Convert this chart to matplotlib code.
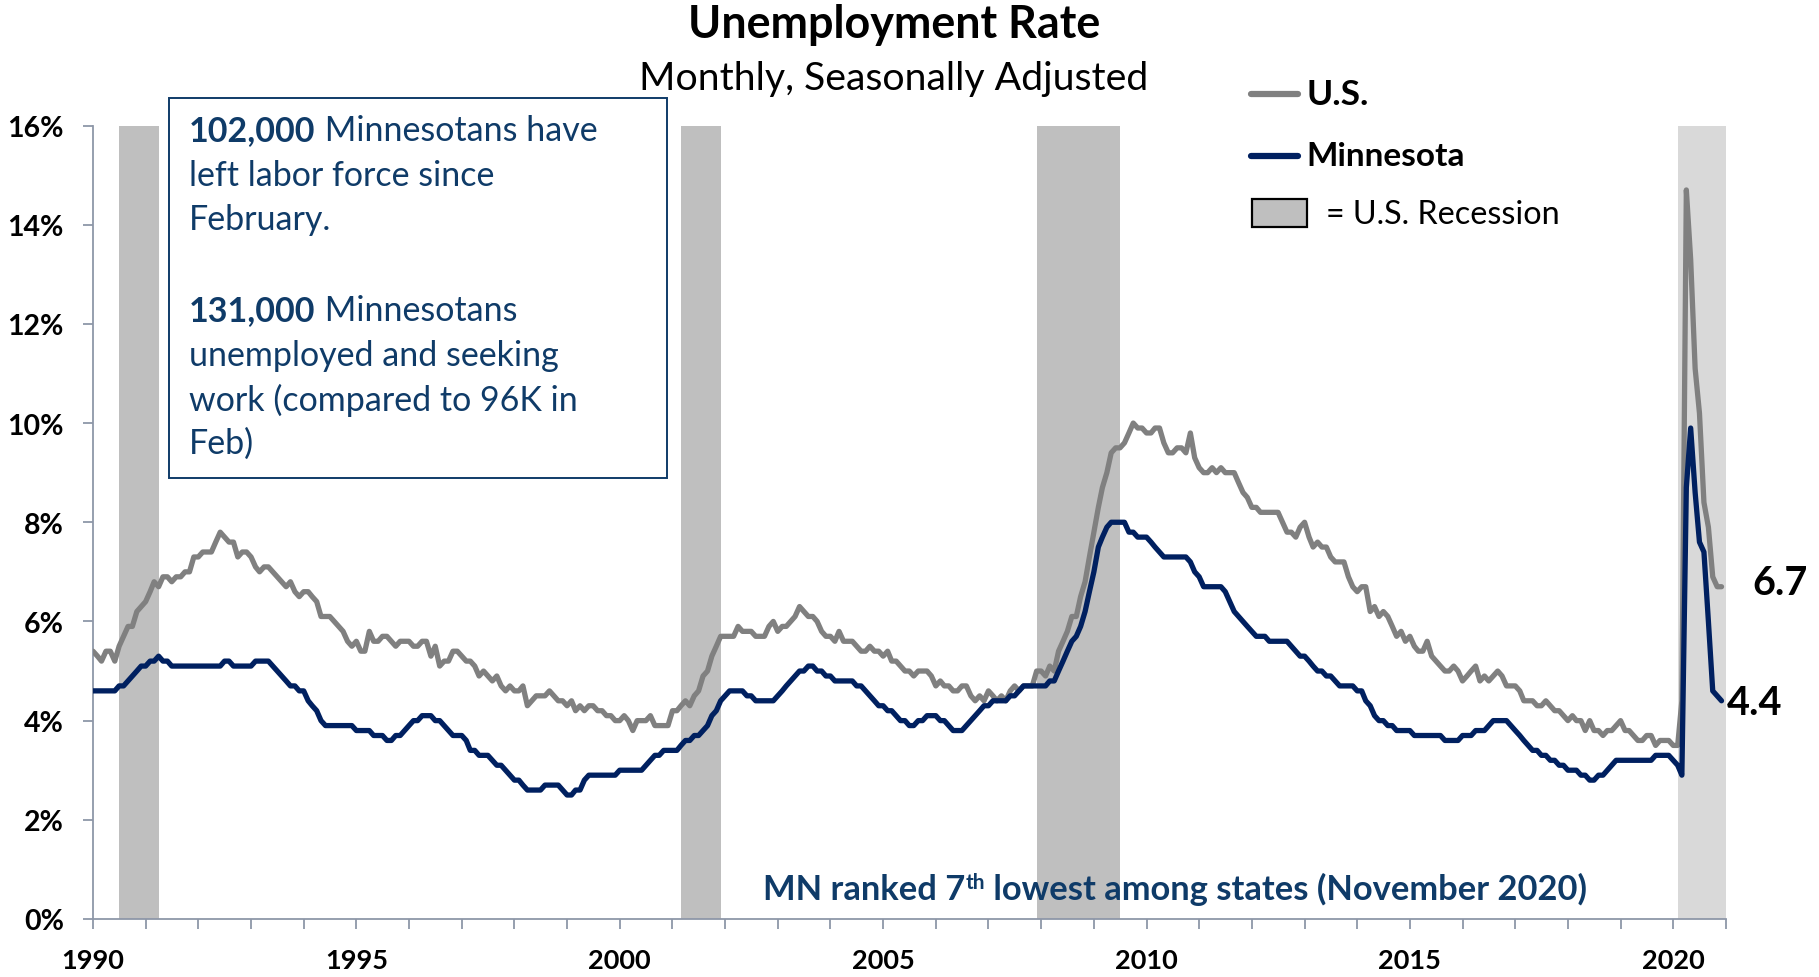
import matplotlib
matplotlib.use("Agg")
import matplotlib.pyplot as plt
import matplotlib.dates as mdates
from matplotlib.ticker import FuncFormatter
from matplotlib.patches import Rectangle
from matplotlib.lines import Line2D
import pandas as pd

plt.rcParams['font.family'] = ['Lato', 'DejaVu Sans']

# ---------------- data ----------------
months = pd.date_range("1990-01-01", "2020-12-01", freq="MS")

us_rate = [
    5.4, 5.3, 5.2, 5.4, 5.4, 5.2, 5.5, 5.7, 5.9, 5.9, 6.2, 6.3,   # 1990
    6.4, 6.6, 6.8, 6.7, 6.9, 6.9, 6.8, 6.9, 6.9, 7.0, 7.0, 7.3,   # 1991
    7.3, 7.4, 7.4, 7.4, 7.6, 7.8, 7.7, 7.6, 7.6, 7.3, 7.4, 7.4,   # 1992
    7.3, 7.1, 7.0, 7.1, 7.1, 7.0, 6.9, 6.8, 6.7, 6.8, 6.6, 6.5,   # 1993
    6.6, 6.6, 6.5, 6.4, 6.1, 6.1, 6.1, 6.0, 5.9, 5.8, 5.6, 5.5,   # 1994
    5.6, 5.4, 5.4, 5.8, 5.6, 5.6, 5.7, 5.7, 5.6, 5.5, 5.6, 5.6,   # 1995
    5.6, 5.5, 5.5, 5.6, 5.6, 5.3, 5.5, 5.1, 5.2, 5.2, 5.4, 5.4,   # 1996
    5.3, 5.2, 5.2, 5.1, 4.9, 5.0, 4.9, 4.8, 4.9, 4.7, 4.6, 4.7,   # 1997
    4.6, 4.6, 4.7, 4.3, 4.4, 4.5, 4.5, 4.5, 4.6, 4.5, 4.4, 4.4,   # 1998
    4.3, 4.4, 4.2, 4.3, 4.2, 4.3, 4.3, 4.2, 4.2, 4.1, 4.1, 4.0,   # 1999
    4.0, 4.1, 4.0, 3.8, 4.0, 4.0, 4.0, 4.1, 3.9, 3.9, 3.9, 3.9,   # 2000
    4.2, 4.2, 4.3, 4.4, 4.3, 4.5, 4.6, 4.9, 5.0, 5.3, 5.5, 5.7,   # 2001
    5.7, 5.7, 5.7, 5.9, 5.8, 5.8, 5.8, 5.7, 5.7, 5.7, 5.9, 6.0,   # 2002
    5.8, 5.9, 5.9, 6.0, 6.1, 6.3, 6.2, 6.1, 6.1, 6.0, 5.8, 5.7,   # 2003
    5.7, 5.6, 5.8, 5.6, 5.6, 5.6, 5.5, 5.4, 5.4, 5.5, 5.4, 5.4,   # 2004
    5.3, 5.4, 5.2, 5.2, 5.1, 5.0, 5.0, 4.9, 5.0, 5.0, 5.0, 4.9,   # 2005
    4.7, 4.8, 4.7, 4.7, 4.6, 4.6, 4.7, 4.7, 4.5, 4.4, 4.5, 4.4,   # 2006
    4.6, 4.5, 4.4, 4.5, 4.4, 4.6, 4.7, 4.6, 4.7, 4.7, 4.7, 5.0,   # 2007
    5.0, 4.9, 5.1, 5.0, 5.4, 5.6, 5.8, 6.1, 6.1, 6.5, 6.8, 7.3,   # 2008
    7.8, 8.3, 8.7, 9.0, 9.4, 9.5, 9.5, 9.6, 9.8, 10.0, 9.9, 9.9,  # 2009
    9.8, 9.8, 9.9, 9.9, 9.6, 9.4, 9.4, 9.5, 9.5, 9.4, 9.8, 9.3,   # 2010
    9.1, 9.0, 9.0, 9.1, 9.0, 9.1, 9.0, 9.0, 9.0, 8.8, 8.6, 8.5,   # 2011
    8.3, 8.3, 8.2, 8.2, 8.2, 8.2, 8.2, 8.0, 7.8, 7.8, 7.7, 7.9,   # 2012
    8.0, 7.7, 7.5, 7.6, 7.5, 7.5, 7.3, 7.2, 7.2, 7.2, 6.9, 6.7,   # 2013
    6.6, 6.7, 6.7, 6.2, 6.3, 6.1, 6.2, 6.1, 5.9, 5.7, 5.8, 5.6,   # 2014
    5.7, 5.5, 5.4, 5.4, 5.6, 5.3, 5.2, 5.1, 5.0, 5.0, 5.1, 5.0,   # 2015
    4.8, 4.9, 5.0, 5.1, 4.8, 4.9, 4.8, 4.9, 5.0, 4.9, 4.7, 4.7,   # 2016
    4.7, 4.6, 4.4, 4.4, 4.4, 4.3, 4.3, 4.4, 4.3, 4.2, 4.2, 4.1,   # 2017
    4.0, 4.1, 4.0, 4.0, 3.8, 4.0, 3.8, 3.8, 3.7, 3.8, 3.8, 3.9,   # 2018
    4.0, 3.8, 3.8, 3.7, 3.6, 3.6, 3.7, 3.7, 3.5, 3.6, 3.6, 3.6,   # 2019
    3.5, 3.5, 4.4, 14.7, 13.3, 11.1, 10.2, 8.4, 7.9, 6.9, 6.7, 6.7,  # 2020
]

mn_rate = [
    4.6, 4.6, 4.6, 4.6, 4.6, 4.6, 4.7, 4.7, 4.8, 4.9, 5.0, 5.1,   # 1990
    5.1, 5.2, 5.2, 5.3, 5.2, 5.2, 5.1, 5.1, 5.1, 5.1, 5.1, 5.1,   # 1991
    5.1, 5.1, 5.1, 5.1, 5.1, 5.1, 5.2, 5.2, 5.1, 5.1, 5.1, 5.1,   # 1992
    5.1, 5.2, 5.2, 5.2, 5.2, 5.1, 5.0, 4.9, 4.8, 4.7, 4.7, 4.6,   # 1993
    4.6, 4.4, 4.3, 4.2, 4.0, 3.9, 3.9, 3.9, 3.9, 3.9, 3.9, 3.9,   # 1994
    3.8, 3.8, 3.8, 3.8, 3.7, 3.7, 3.7, 3.6, 3.6, 3.7, 3.7, 3.8,   # 1995
    3.9, 4.0, 4.0, 4.1, 4.1, 4.1, 4.0, 4.0, 3.9, 3.8, 3.7, 3.7,   # 1996
    3.7, 3.6, 3.4, 3.4, 3.3, 3.3, 3.3, 3.2, 3.1, 3.1, 3.0, 2.9,   # 1997
    2.8, 2.8, 2.7, 2.6, 2.6, 2.6, 2.6, 2.7, 2.7, 2.7, 2.7, 2.6,   # 1998
    2.5, 2.5, 2.6, 2.6, 2.8, 2.9, 2.9, 2.9, 2.9, 2.9, 2.9, 2.9,   # 1999
    3.0, 3.0, 3.0, 3.0, 3.0, 3.0, 3.1, 3.2, 3.3, 3.3, 3.4, 3.4,   # 2000
    3.4, 3.4, 3.5, 3.6, 3.6, 3.7, 3.7, 3.8, 3.9, 4.1, 4.2, 4.4,   # 2001
    4.5, 4.6, 4.6, 4.6, 4.6, 4.5, 4.5, 4.4, 4.4, 4.4, 4.4, 4.4,   # 2002
    4.5, 4.6, 4.7, 4.8, 4.9, 5.0, 5.0, 5.1, 5.1, 5.0, 5.0, 4.9,   # 2003
    4.9, 4.8, 4.8, 4.8, 4.8, 4.8, 4.7, 4.7, 4.6, 4.5, 4.4, 4.3,   # 2004
    4.3, 4.2, 4.2, 4.1, 4.0, 4.0, 3.9, 3.9, 4.0, 4.0, 4.1, 4.1,   # 2005
    4.1, 4.0, 4.0, 3.9, 3.8, 3.8, 3.8, 3.9, 4.0, 4.1, 4.2, 4.3,   # 2006
    4.3, 4.4, 4.4, 4.4, 4.4, 4.5, 4.5, 4.6, 4.7, 4.7, 4.7, 4.7,   # 2007
    4.7, 4.7, 4.8, 4.8, 5.0, 5.2, 5.4, 5.6, 5.7, 5.9, 6.2, 6.6,   # 2008
    7.0, 7.5, 7.7, 7.9, 8.0, 8.0, 8.0, 8.0, 7.8, 7.8, 7.7, 7.7,   # 2009
    7.7, 7.6, 7.5, 7.4, 7.3, 7.3, 7.3, 7.3, 7.3, 7.3, 7.2, 7.0,   # 2010
    6.9, 6.7, 6.7, 6.7, 6.7, 6.7, 6.6, 6.4, 6.2, 6.1, 6.0, 5.9,   # 2011
    5.8, 5.7, 5.7, 5.7, 5.6, 5.6, 5.6, 5.6, 5.6, 5.5, 5.4, 5.3,   # 2012
    5.3, 5.2, 5.1, 5.0, 5.0, 4.9, 4.9, 4.8, 4.7, 4.7, 4.7, 4.7,   # 2013
    4.6, 4.6, 4.4, 4.3, 4.1, 4.0, 4.0, 3.9, 3.9, 3.8, 3.8, 3.8,   # 2014
    3.8, 3.7, 3.7, 3.7, 3.7, 3.7, 3.7, 3.7, 3.6, 3.6, 3.6, 3.6,   # 2015
    3.7, 3.7, 3.7, 3.8, 3.8, 3.8, 3.9, 4.0, 4.0, 4.0, 4.0, 3.9,   # 2016
    3.8, 3.7, 3.6, 3.5, 3.4, 3.4, 3.3, 3.3, 3.2, 3.2, 3.1, 3.1,   # 2017
    3.0, 3.0, 3.0, 2.9, 2.9, 2.8, 2.8, 2.9, 2.9, 3.0, 3.1, 3.2,   # 2018
    3.2, 3.2, 3.2, 3.2, 3.2, 3.2, 3.2, 3.2, 3.3, 3.3, 3.3, 3.3,   # 2019
    3.2, 3.1, 2.9, 8.7, 9.9, 8.6, 7.6, 7.4, 6.0, 4.6, 4.5, 4.4,   # 2020
]

recession_starts = ["1990-07-01", "2001-03-01", "2007-12-01", "2020-02-01"]
recession_ends = ["1991-04-01", "2001-12-01", "2009-07-01", "2021-01-01"]
recession_colors = ["#BFBFBF", "#BFBFBF", "#BFBFBF", "#D9D9D9"]

y_ticks = [0, 2, 4, 6, 8, 10, 12, 14, 16]
y_tick_labels = [f"{v}%" for v in y_ticks]
labeled_years = [1990, 1995, 2000, 2005, 2010, 2015, 2020]

# ---------------- layout helpers ----------------
W, H = 1819, 978
def fx(px):
    return px / W
def fy(py):
    return 1 - py / H

NAVY = "#002060"
GRAY = "#808080"
TEXT_NAVY = "#0F3B68"
AXIS_COL = "#8E97A8"

fig = plt.figure(figsize=(W / 100, H / 100), dpi=100)
ax = fig.add_axes([fx(93), fy(920), (1726 - 93) / W, (920 - 126.5) / H])

for s, e, c in zip(recession_starts, recession_ends, recession_colors):
    ax.axvspan(pd.Timestamp(s), pd.Timestamp(e), color=c, lw=0, zorder=0)

ax.plot(months, us_rate, color=GRAY, lw=3.8, solid_joinstyle='round',
        solid_capstyle='round', zorder=3)
ax.plot(months, mn_rate, color=NAVY, lw=3.8, solid_joinstyle='round',
        solid_capstyle='round', zorder=4)

ax.set_xlim(pd.Timestamp("1990-01-01"), pd.Timestamp("2021-01-01"))
ax.set_ylim(0, 16)

ax.xaxis.set_major_locator(mdates.YearLocator(1))
def year_fmt(v, pos):
    y = mdates.num2date(v).year
    return str(y) if y in labeled_years else ""
ax.xaxis.set_major_formatter(FuncFormatter(year_fmt))
ax.set_yticks(y_ticks)
ax.set_yticklabels(y_tick_labels)

for side in ["top", "right"]:
    ax.spines[side].set_visible(False)
for side in ["left", "bottom"]:
    ax.spines[side].set_color(AXIS_COL)
    ax.spines[side].set_linewidth(1.3)
ax.tick_params(axis='both', direction='out', length=7, width=1.3,
               color=AXIS_COL)
ax.tick_params(axis='x', pad=14, labelsize=19.5)
ax.tick_params(axis='y', pad=14, labelsize=20.5)
for lbl in ax.get_xticklabels() + ax.get_yticklabels():
    lbl.set_fontweight('bold')
    lbl.set_color('black')

# ---------------- titles ----------------
fig.text(fx(894), fy(25), "Unemployment Rate", ha='center', va='center',
         fontsize=32.3, fontweight='bold', color='black')
fig.text(fx(894), fy(79), "Monthly, Seasonally Adjusted", ha='center',
         va='center', fontsize=28.3, color='black')

# ---------------- annotation box ----------------
fig.add_artist(Rectangle((fx(169), fy(479)), (667 - 169) / W, (479 - 99) / H,
                         transform=fig.transFigure, fill=False,
                         edgecolor=TEXT_NAVY, lw=1.4))
box_lines = [
    ("102,000", " Minnesotans have", 131),
    ("", "left labor force since", 176),
    ("", "February.", 220),
    ("131,000", " Minnesotans", 311),
    ("", "unemployed and seeking", 356),
    ("", "work (compared to 96K in", 400),
    ("", "Feb)", 444),
]
BOX_FS = 24.5
for bold, rest, ypx in box_lines:
    if bold:
        tb = fig.text(fx(189), fy(ypx), bold, ha='left', va='center',
                      fontsize=BOX_FS, fontweight='bold', color=TEXT_NAVY)
        ax.annotate(rest, xy=(1, 0), xycoords=tb, ha='left', va='bottom',
                    fontsize=BOX_FS, color=TEXT_NAVY, annotation_clip=False)
    else:
        fig.text(fx(189), fy(ypx), rest, ha='left', va='center',
                 fontsize=BOX_FS, color=TEXT_NAVY)

# ---------------- note ----------------
NOTE_FS = 24.8
n1 = fig.text(fx(763), fy(890), "MN ranked 7", ha='left', va='center',
              fontsize=NOTE_FS, fontweight='bold', color=TEXT_NAVY)
n2 = ax.annotate("th", xy=(1, 0.42), xycoords=n1, ha='left', va='bottom',
                 fontsize=15, fontweight='bold', color=TEXT_NAVY,
                 annotation_clip=False)
ax.annotate(" lowest among states (November 2020)", xy=(1, 0),
            xycoords=(n2, n1), ha='left', va='bottom', fontsize=NOTE_FS,
            fontweight='bold', color=TEXT_NAVY, annotation_clip=False)

# ---------------- legend ----------------
fig.add_artist(Line2D([fx(1251), fx(1298)], [fy(95), fy(95)],
                      transform=fig.transFigure, color=GRAY, lw=4.5,
                      solid_capstyle='round'))
fig.text(fx(1306), fy(95), "U.S.", ha='left', va='center', fontsize=25.5,
         fontweight='bold', color='black')
fig.add_artist(Line2D([fx(1251), fx(1298)], [fy(157), fy(157)],
                      transform=fig.transFigure, color=NAVY, lw=4.5,
                      solid_capstyle='round'))
fig.text(fx(1306), fy(157), "Minnesota", ha='left', va='center', fontsize=24,
         fontweight='bold', color='black')
fig.add_artist(Rectangle((fx(1252), fy(228)), (1307 - 1252) / W, (228 - 200) / H,
                         transform=fig.transFigure, facecolor="#BFBFBF",
                         edgecolor='black', lw=1.6))
fig.text(fx(1326), fy(215), "= U.S. Recession", ha='left', va='center',
         fontsize=23.3, color='black')

# ---------------- end labels ----------------
ax.annotate(f"{us_rate[-1]:.1f}", xy=(months[-1], us_rate[-1]),
            xytext=(22, 3), textcoords='offset points', ha='left',
            va='center', fontsize=28.5, fontweight='bold', color='black',
            annotation_clip=False)
ax.annotate(f"{mn_rate[-1]:.1f}", xy=(months[-1], mn_rate[-1]),
            xytext=(4, -1), textcoords='offset points', ha='left',
            va='center', fontsize=28.5, fontweight='bold', color='black',
            annotation_clip=False)

fig.savefig("out.png", dpi=100)
